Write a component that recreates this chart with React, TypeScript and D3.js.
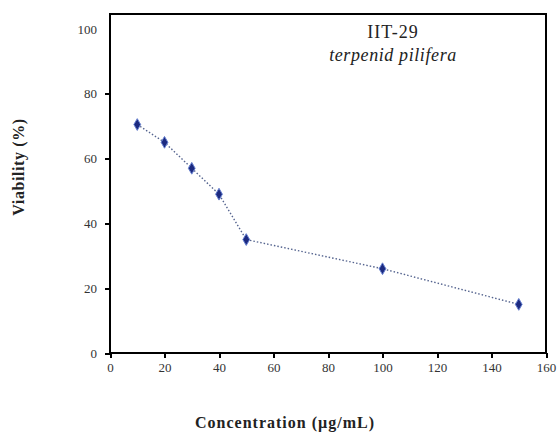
import React, { useEffect, useRef } from 'react';
import * as d3 from 'd3';

const concentration = [10, 20, 30, 40, 50, 100, 150];
const viability = [70.5, 65, 57, 49, 35, 26, 15];
const xTicks = [0, 20, 40, 60, 80, 100, 120, 140, 160];
const yTicks = [0, 20, 40, 60, 80, 100];

const FONT = "'Liberation Serif', 'Times New Roman', Times, serif";

const App: React.FC = () => {
  const svgRef = useRef<SVGSVGElement | null>(null);

  useEffect(() => {
    const svg = d3.select(svgRef.current);
    svg.selectAll('*').remove();

    const width = 558;
    const height = 440;
    const margin = { top: 14, right: 12, bottom: 87, left: 110 };

    const x = d3
      .scaleLinear()
      .domain([0, 160])
      .range([margin.left, width - margin.right]);
    const y = d3
      .scaleLinear()
      .domain([0, 104.6])
      .range([height - margin.bottom, margin.top]);

    svg.attr('width', width).attr('height', height);

    const xAxis = d3.axisBottom(x).tickValues(xTicks).tickSize(5).tickPadding(5);
    const gx = svg
      .append('g')
      .attr('transform', `translate(0, ${height - margin.bottom})`)
      .call(xAxis);

    const yAxis = d3.axisLeft(y).tickValues(yTicks).tickSize(5).tickPadding(8);
    const gy = svg
      .append('g')
      .attr('transform', `translate(${margin.left}, 0)`)
      .call(yAxis);
    gy.selectAll('.tick')
      .filter((d) => d === 100)
      .select('line')
      .remove();

    [gx, gy].forEach((g) => {
      g.select('.domain').remove();
      g.selectAll('line')
        .attr('stroke', '#000')
        .attr('stroke-width', 2)
        .attr('shape-rendering', 'crispEdges');
      g.selectAll('text')
        .style('font-family', FONT)
        .style('font-size', '13px')
        .style('fill', '#333');
    });

    // frame
    const x0 = margin.left;
    const x1 = width - margin.right;
    const y0 = margin.top;
    const y1 = height - margin.bottom;
    svg
      .append('path')
      .attr('d', `M${x0},${y0}H${x1}V${y1}H${x0}Z`)
      .attr('fill', 'none')
      .attr('stroke', '#000')
      .attr('stroke-width', 2.5)
      .attr('shape-rendering', 'crispEdges');

    const pts = concentration.map((c, i) => [c, viability[i]] as [number, number]);
    const line = d3
      .line<[number, number]>()
      .x((d) => x(d[0]))
      .y((d) => y(d[1]));

    svg
      .append('path')
      .datum(pts)
      .attr('d', line)
      .attr('fill', 'none')
      .attr('stroke', '#55648f')
      .attr('stroke-width', 1.4)
      .attr('stroke-dasharray', '1.5,2');

    svg
      .selectAll('.pt')
      .data(pts)
      .join('path')
      .attr('class', 'pt')
      .attr('transform', (d) => `translate(${x(d[0])}, ${y(d[1])})`)
      .attr('d', d3.symbol().type(d3.symbolDiamond).size(40)())
      .attr('fill', '#1c2a80')
      .attr('stroke', '#6680d0')
      .attr('stroke-width', 1);

    const label = (
      tx: string,
      xx: number,
      yy: number,
      size: number,
      spacing: number,
      opts: { bold?: boolean; italic?: boolean; rotate?: boolean } = {}
    ) => {
      const t = svg
        .append('text')
        .attr(
          'transform',
          `translate(${xx}, ${yy})${opts.rotate ? ' rotate(-90)' : ''}`
        )
        .attr('text-anchor', 'middle')
        .style('font-family', FONT)
        .style('font-size', `${size}px`)
        .style('letter-spacing', `${spacing}px`)
        .style('fill', '#222')
        .text(tx);
      if (opts.bold) t.style('font-weight', 'bold');
      if (opts.italic) t.style('font-style', 'italic');
    };

    label('IIT-29', 393, 38, 18, 1);
    label('terpenid pilifera', 393, 61, 18, 0.6, { italic: true });
    label('Concentration (µg/mL)', 285, 428, 16, 1, { bold: true });
    label('Viability (%)', 24, 167, 16, 0.6, { bold: true, rotate: true });
  }, []);

  return (
    <svg
      ref={svgRef}
      style={{ position: 'absolute', left: 0, top: 0, background: '#fff' }}
    />
  );
};

export default App;
